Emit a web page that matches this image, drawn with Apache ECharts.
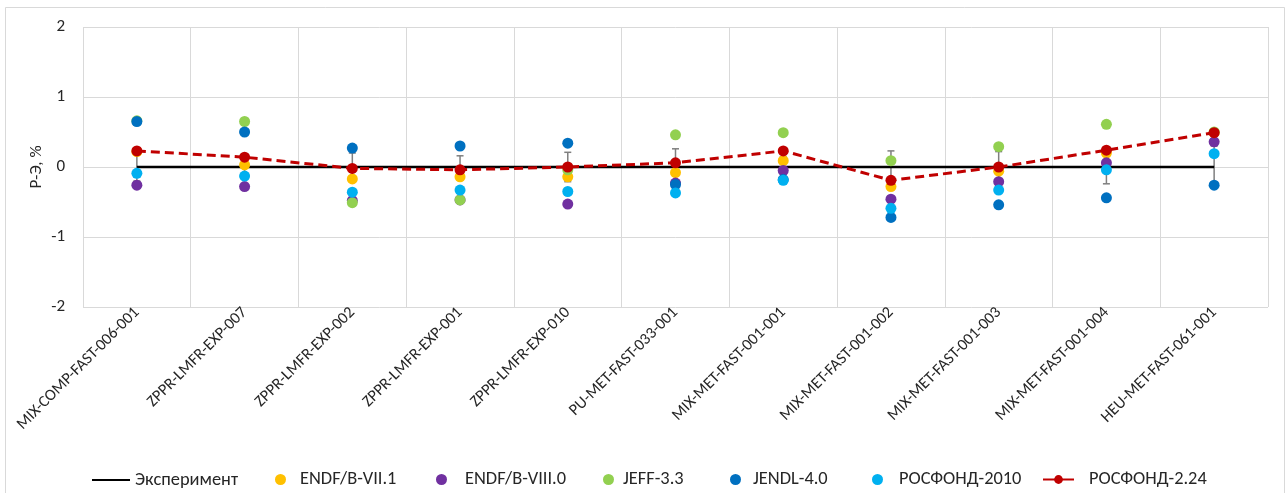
<!DOCTYPE html>
<html>
<head>
<meta charset="utf-8">
<script src="https://cdn.jsdelivr.net/npm/echarts@6/dist/echarts.min.js"></script>
<style>
html,body{margin:0;padding:0;background:#fff;}
#chart{width:1288px;height:493px;}
</style>
</head>
<body>
<div id="chart"></div>
<script>
const categories = ['MIX-COMP-FAST-006-001','ZPPR-LMFR-EXP-007','ZPPR-LMFR-EXP-002','ZPPR-LMFR-EXP-001','ZPPR-LMFR-EXP-010','PU-MET-FAST-033-001','MIX-MET-FAST-001-001','MIX-MET-FAST-001-002','MIX-MET-FAST-001-003','MIX-MET-FAST-001-004','HEU-MET-FAST-061-001'];
const experiment = [0,0,0,0,0,0,0,0,0,0,0];
const experimentErr = [0.2,0.1,0.2,0.16,0.21,0.26,0.15,0.23,0.22,0.24,0.3];
const endf71 = [0.22,0.03,-0.17,-0.14,-0.14,-0.08,0.09,-0.28,-0.06,0.20,0.49];
const endf80 = [-0.26,-0.28,-0.48,-0.47,-0.53,-0.23,-0.05,-0.46,-0.21,0.06,0.36];
const jeff33 = [0.66,0.65,-0.51,-0.47,-0.04,0.46,0.49,0.09,0.29,0.61,0.50];
const jendl40 = [0.65,0.50,0.27,0.30,0.34,-0.25,-0.18,-0.72,-0.54,-0.44,-0.26];
const rosfond2010 = [-0.09,-0.13,-0.36,-0.33,-0.35,-0.37,-0.19,-0.59,-0.33,-0.04,0.19];
const rosfond224 = [0.23,0.14,-0.02,-0.04,0.00,0.06,0.23,-0.19,0.00,0.24,0.49];
const yTicks = [-2,-1,0,1,2];

const FONT = 'Carlito, Lato, sans-serif';
const TXT = '#262626';
const chart = echarts.init(document.getElementById('chart'));

function scatter(name, data, color){
  return {name, type:'scatter', data, symbol:'circle', symbolSize:11,
    itemStyle:{color, opacity:1}, z:3};
}
function legendAt(name, left, iw, ih, pad, icon){
  const d = icon ? {name, icon} : name;
  return {data:[d], left, top:476 - ih/2, padding:0, itemWidth:iw, itemHeight:ih, itemGap:0,
    lineStyle:{type:'solid'},
    textStyle:{fontFamily:FONT, fontSize:18.4, color:TXT, padding:[0,0,0,pad]}};
}

const option = {
  animation:false,
  backgroundColor:'#fff',
  graphic:[{type:'rect', shape:{x:5.5,y:7.5,width:1279,height:500}, style:{fill:'none', stroke:'#d9d9d9', lineWidth:1}, silent:true}],
  grid:{left:83, right:20, top:27, bottom:186},
  legend:[
    legendAt('Эксперимент',92,38,10,0,'path://M0,4 L38,4 L38,6 L0,6 Z'),
    legendAt('ENDF/B-VII.1',275,11,11,9),
    legendAt('ENDF/B-VIII.0',436,11,11,13),
    legendAt('JEFF-3.3',603,11,11,4),
    legendAt('JENDL-4.0',730,11,11,7),
    legendAt('РОСФОНД-2010',872,11,11,11),
    legendAt('РОСФОНД-2.24',1042,31,11,10)
  ],
  xAxis:{type:'category', data:categories, boundaryGap:true,
    axisLine:{show:false}, axisTick:{show:false},
    splitLine:{show:true, lineStyle:{color:'#d9d9d9', width:1}},
    axisLabel:{rotate:45, interval:0, margin:3, fontFamily:FONT, fontSize:16.2, color:TXT}},
  yAxis:{type:'value', min:-2, max:2, interval:1,
    name:'Р-Э, %', nameLocation:'middle', nameRotate:90, nameGap:38, nameMoveOverlap:false,
    nameTextStyle:{fontFamily:FONT, fontSize:17, color:TXT},
    axisLine:{show:false}, axisTick:{show:false},
    splitLine:{show:true, lineStyle:{color:'#d9d9d9', width:1}},
    axisLabel:{margin:18, fontFamily:FONT, fontSize:17, color:TXT,
      formatter:v=>yTicks.includes(v)?String(v):''}},
  series:[
    {name:'ErrBars', type:'custom', z:1,
      data:experiment.map((v,i)=>[i,v,experimentErr[i]]),
      renderItem:function(params, api){
        const x = api.value(0), y = api.value(1), e = api.value(2);
        const top = api.coord([x, y+e]), bot = api.coord([x, y-e]);
        const c = '#7f7f7f', hw = 3.5;
        return {type:'group', children:[
          {type:'line', shape:{x1:top[0],y1:top[1],x2:bot[0],y2:bot[1]}, style:{stroke:c, lineWidth:1.5}},
          {type:'line', shape:{x1:top[0]-hw,y1:top[1],x2:top[0]+hw,y2:top[1]}, style:{stroke:c, lineWidth:1.5}},
          {type:'line', shape:{x1:bot[0]-hw,y1:bot[1],x2:bot[0]+hw,y2:bot[1]}, style:{stroke:c, lineWidth:1.5}}
        ]};
      }},
    {name:'Эксперимент', type:'line', data:experiment, symbol:'none', z:2,
      lineStyle:{color:'#000', width:2.5}, itemStyle:{color:'#000'}},
    scatter('ENDF/B-VII.1', endf71, '#FFC000'),
    scatter('ENDF/B-VIII.0', endf80, '#7030A0'),
    scatter('JEFF-3.3', jeff33, '#92D050'),
    scatter('JENDL-4.0', jendl40, '#0070C0'),
    scatter('РОСФОНД-2010', rosfond2010, '#00B0F0'),
    {name:'РОСФОНД-2.24', type:'line', data:rosfond224, symbol:'circle', symbolSize:11, z:4,
      lineStyle:{color:'#C00000', width:3, type:[9,5]}, itemStyle:{color:'#C00000'}}
  ]
};
chart.setOption(option);
</script>
</body>
</html>
